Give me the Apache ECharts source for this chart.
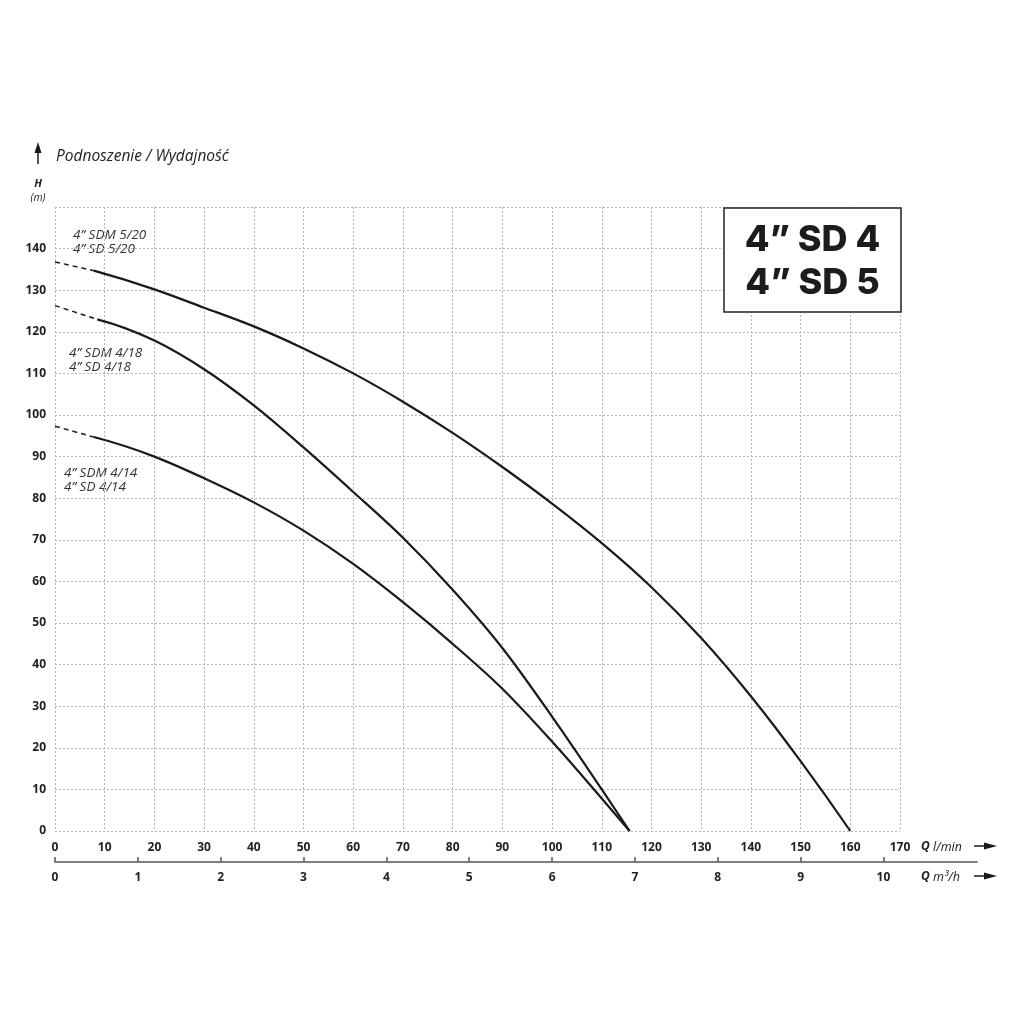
<!DOCTYPE html>
<html>
<head>
<meta charset="utf-8">
<script src="https://cdn.jsdelivr.net/npm/echarts@6/dist/echarts.min.js"></script>
<style>
html,body{margin:0;padding:0;background:#fff;}
#chart{width:1024px;height:1024px;}
</style>
</head>
<body>
<div id="chart"></div>
<script>
// ---- data ----
const qTicks = [0,10,20,30,40,50,60,70,80,90,100,110,120,130,140,150,160,170];
const m3Ticks = [0,1,2,3,4,5,6,7,8,9,10];
const hTicks = [0,10,20,30,40,50,60,70,80,90,100,110,120,130,140];

// 4" SDM 5/20 / 4" SD 5/20
const q520dash = [0, 7.8];
const h520dash = [136.8, 134.7];
const q520 = [7.8, 20, 30, 40, 50, 60, 70, 80, 90, 100, 110, 120, 130, 140, 150, 160];
const h520 = [134.7, 130.2, 125.8, 121.3, 116, 110, 103.2, 95.7, 87.5, 78.7, 69.2, 58.6, 46.4, 32.4, 16.8, 0];

// 4" SDM 4/18 / 4" SD 4/18
const q418dash = [0, 8.5];
const h418dash = [126.3, 123];
const q418 = [8.5, 20, 30, 40, 50, 60, 70, 80, 90, 100, 110, 115.6];
const h418 = [123, 117.9, 111, 102.3, 92.2, 81.5, 70.5, 58, 44, 27.5, 10, 0];

// 4" SDM 4/14 / 4" SD 4/14
const q414dash = [0, 7.8];
const h414dash = [97.3, 94.7];
const q414 = [7.8, 20, 30, 40, 50, 60, 70, 80, 90, 100, 110, 115.6];
const h414 = [94.7, 90, 84.8, 79, 72.2, 64.2, 55, 45, 34.2, 21.5, 7.8, 0];

const curveLabels = [
  "4\u201D SDM 5/20\n4\u201D SD 5/20",
  "4\u201D SDM 4/18\n4\u201D SD 4/18",
  "4\u201D SDM 4/14\n4\u201D SD 4/14"
];
const titleLines = "4\u201D SD 4\n4\u201D SD 5";
const chartTitle = "Podnoszenie / Wydajno\u015B\u0107";
const LPM_TO_M3H = 0.06;
const qMax = 170, hMax = 150;

// ---- build ----
const zip = (a, b) => a.map((v, i) => [v, b[i]]);
const INK = '#1a1a1a';
const labelFont = '"Open Sans", "Noto Sans", sans-serif';

// smooth cubic Hermite path through points given in pixel space (x increasing)
function hermitePath(p) {
  const n = p.length;
  const d = [];
  for (let i = 0; i < n - 1; i++) d.push((p[i + 1][1] - p[i][1]) / (p[i + 1][0] - p[i][0]));
  const m = new Array(n);
  for (let i = 1; i < n - 1; i++) {
    const h0 = p[i][0] - p[i - 1][0], h1 = p[i + 1][0] - p[i][0];
    m[i] = (d[i - 1] * h1 + d[i] * h0) / (h0 + h1);
  }
  m[0] = n > 2 ? 2 * d[0] - m[1] : d[0];
  m[n - 1] = n > 2 ? 2 * d[n - 2] - m[n - 2] : d[n - 2];
  let s = 'M' + p[0][0] + ' ' + p[0][1];
  for (let i = 0; i < n - 1; i++) {
    const dx = (p[i + 1][0] - p[i][0]) / 3;
    s += ' C' + (p[i][0] + dx) + ' ' + (p[i][1] + m[i] * dx) + ' ' +
         (p[i + 1][0] - dx) + ' ' + (p[i + 1][1] - m[i + 1] * dx) + ' ' +
         p[i + 1][0] + ' ' + p[i + 1][1];
  }
  return s;
}

function solid(name, q, h) {
  return { name, type: 'custom', coordinateSystem: 'cartesian2d', xAxisIndex: 0, yAxisIndex: 0,
    data: zip(q, h), encode: { x: 0, y: 1 }, clip: false, z: 5,
    renderItem: function (params, api) {
      if (params.dataIndex !== 0) return null;
      const pts = q.map((v, i) => api.coord([v, h[i]]));
      return { type: 'path', shape: { pathData: hermitePath(pts) },
        style: { fill: 'none', stroke: INK, lineWidth: 2.2 } };
    } };
}
function dashed(name, q, h) {
  return { name: name + ' (dashed)', type: 'line', xAxisIndex: 0, yAxisIndex: 0, data: zip(q, h),
    showSymbol: false, symbol: 'none',
    lineStyle: { color: INK, width: 1.5, type: [5, 4] }, z: 5 };
}

const gridLeft = 55, gridRight1 = 900, gridRight2 = 977;
const m3Max = qMax * LPM_TO_M3H * (gridRight2 - gridLeft) / (gridRight1 - gridLeft);

const chart = echarts.init(document.getElementById('chart'), null, { renderer: 'canvas' });

const arrowRight = (y) => ([
  { type: 'line', shape: { x1: 974, y1: y, x2: 988, y2: y }, style: { stroke: INK, lineWidth: 1.5 } },
  { type: 'polygon', shape: { points: [[984, y - 3.5], [997, y], [984, y + 3.5]] }, style: { fill: INK } }
]);

chart.setOption({
  animation: false,
  backgroundColor: '#ffffff',
  grid: [
    { left: gridLeft, right: 1024 - gridRight1, top: 207, bottom: 1024 - 831 },
    { left: gridLeft, right: 1024 - gridRight2, top: 840, bottom: 1024 - 862 }
  ],
  xAxis: [
    { type: 'value', gridIndex: 0, min: 0, max: qMax, interval: 10,
      axisLine: { show: false }, axisTick: { show: false },
      axisLabel: { margin: 11, color: '#222', fontSize: 12, fontWeight: 'bold', fontFamily: labelFont },
      splitLine: { show: true, lineStyle: { color: '#b5b5b5', width: 1, type: [2, 2] } } },
    { type: 'value', gridIndex: 1, min: 0, max: m3Max,
      axisLine: { show: true, lineStyle: { color: '#555', width: 1.5 } },
      axisTick: { show: true, inside: true, length: 5, customValues: m3Ticks, lineStyle: { color: '#555', width: 1.5 } },
      axisLabel: { margin: 10, customValues: m3Ticks, color: '#222', fontSize: 12, fontWeight: 'bold', fontFamily: labelFont },
      splitLine: { show: false } }
  ],
  yAxis: [
    { type: 'value', gridIndex: 0, min: 0, max: hMax, interval: 10,
      axisLine: { show: false }, axisTick: { show: false },
      axisLabel: { margin: 9, color: '#222', fontSize: 12, fontWeight: 'bold', fontFamily: labelFont,
        formatter: v => (hTicks.indexOf(v) >= 0 ? String(v) : '') },
      splitLine: { show: true, lineStyle: { color: '#b5b5b5', width: 1, type: [2, 2] } } },
    { type: 'value', gridIndex: 1, show: false, min: 0, max: 1 }
  ],
  series: [
    dashed('4" SD 5/20', q520dash, h520dash), solid('4" SD 5/20', q520, h520),
    dashed('4" SD 4/18', q418dash, h418dash), solid('4" SD 4/18', q418, h418),
    dashed('4" SD 4/14', q414dash, h414dash), solid('4" SD 4/14', q414, h414)
  ],
  graphic: [
    // up arrow & title
    { type: 'line', shape: { x1: 38, y1: 150, x2: 38, y2: 164 }, style: { stroke: INK, lineWidth: 1.5 } },
    { type: 'polygon', shape: { points: [[34.5, 153], [38, 142], [41.5, 153]] }, style: { fill: INK } },
    { type: 'text', x: 56, y: 157, style: { text: chartTitle, fill: '#222', font: 'italic 15.5px ' + labelFont, textVerticalAlign: 'middle' } },
    { type: 'text', x: 38, y: 184, style: { text: 'H', fill: '#222', font: 'italic bold 11px ' + labelFont, textAlign: 'center', textVerticalAlign: 'middle' } },
    { type: 'text', x: 38, y: 198, style: { text: '(m)', fill: '#222', font: 'italic 10.5px ' + labelFont, textAlign: 'center', textVerticalAlign: 'middle' } },
    // curve labels
    { type: 'text', x: 73, y: 228, style: { text: curveLabels[0], fill: '#333', font: 'italic 13.5px ' + labelFont, lineHeight: 14 } },
    { type: 'text', x: 69, y: 346, style: { text: curveLabels[1], fill: '#333', font: 'italic 13.5px ' + labelFont, lineHeight: 14 } },
    { type: 'text', x: 64, y: 466, style: { text: curveLabels[2], fill: '#333', font: 'italic 13.5px ' + labelFont, lineHeight: 14 } },
    // title box
    { type: 'rect', shape: { x: 724, y: 208, width: 177, height: 104 }, style: { fill: '#fff', stroke: '#222', lineWidth: 1.5 }, z: 10 },
    { type: 'text', x: 812.5, y: 262, z: 11, style: { text: titleLines, fill: '#1c1c1c', font: '800 36px Inter, "DejaVu Sans", sans-serif', lineHeight: 43, textAlign: 'center', textVerticalAlign: 'middle' } },
    // axis titles
    { type: 'text', x: 921, y: 847, style: { text: '{q|Q} {u|l/min}', textVerticalAlign: 'middle',
        rich: { q: { font: 'italic bold 12px ' + labelFont, fill: '#222' }, u: { font: 'italic 12.5px ' + labelFont, fill: '#222' } } } },
    { type: 'text', x: 921, y: 877, style: { text: '{q|Q} {u|m\u00B3/h}', textVerticalAlign: 'middle',
        rich: { q: { font: 'italic bold 12px ' + labelFont, fill: '#222' }, u: { font: 'italic 12.5px ' + labelFont, fill: '#222' } } } },
    ...arrowRight(846), ...arrowRight(876)
  ]
});
</script>
</body>
</html>
